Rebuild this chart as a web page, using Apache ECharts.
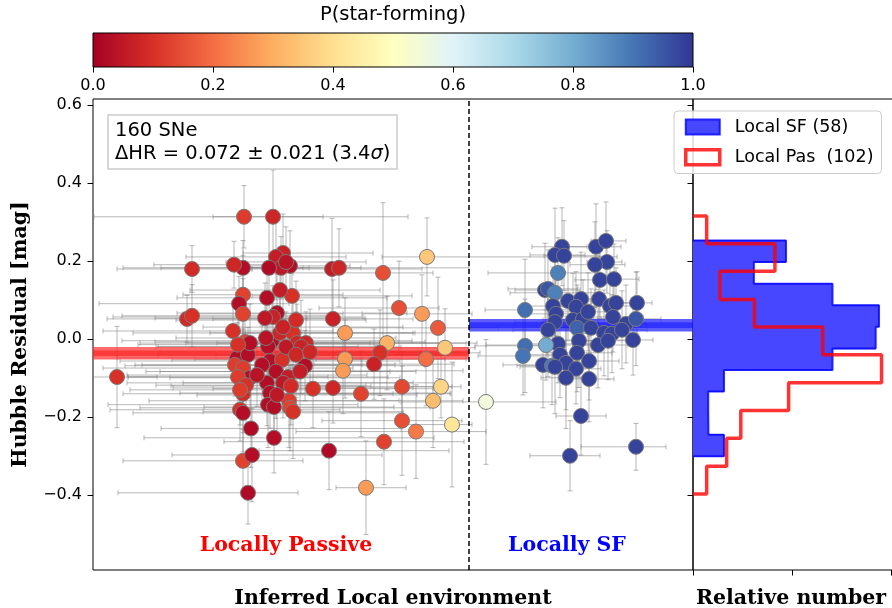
<!DOCTYPE html>
<html><head><meta charset="utf-8">
<script src="https://cdn.jsdelivr.net/npm/echarts@6/dist/echarts.min.js"></script>
<style>html,body{margin:0;padding:0;background:#fff}#c{width:892px;height:608px}</style>
</head><body><div id="c"></div>
<script>
// rows: [environment, HR, P(star-forming), xErrMinus, xErrPlus, yErr]
const passive = [
[1.51,0.314,0.12,1.50,1.64,0.08],[1.80,0.314,0.08,0.60,0.50,0.12],[1.90,0.221,0.07,0.40,0.90,0.10],
[1.83,0.211,0.06,0.90,0.70,0.11],[1.97,0.188,0.03,0.50,0.60,0.09],[1.88,0.183,0.05,1.20,0.80,0.08],
[1.76,0.183,0.02,0.30,0.40,0.12],[1.50,0.183,0.03,1.20,0.60,0.07],[1.41,0.191,0.08,0.80,0.60,0.06],
[0.99,0.180,0.09,0.75,0.60,0.06],[1.50,0.114,0.13,0.60,1.00,0.10],[1.46,0.091,0.03,1.40,0.50,0.07],
[1.74,0.106,0.03,0.90,1.20,0.09],[1.99,0.111,0.10,0.40,1.20,0.08],[1.50,0.065,0.13,0.60,1.00,0.09],
[1.84,0.067,0.03,1.00,1.30,0.10],[1.80,0.057,0.07,1.60,0.90,0.08],[0.94,0.052,0.09,0.80,1.20,0.06],
[0.99,0.060,0.10,0.70,1.40,0.08],[1.40,0.021,0.10,1.30,1.00,0.07],[1.52,-0.007,0.14,0.90,1.80,0.09],
[1.79,-0.004,0.03,1.50,1.40,0.11],[1.87,0.016,0.08,0.70,1.60,0.10],[1.75,-0.019,0.03,1.10,0.90,0.08],
[2.00,0.016,0.10,1.60,1.20,0.09],[2.04,-0.010,0.08,0.80,1.50,0.10],[2.13,-0.010,0.08,1.20,1.60,0.08],
[2.08,-0.020,0.07,0.60,1.00,0.12],[1.44,-0.048,0.03,1.20,1.40,0.09],[1.55,-0.040,0.03,0.90,2.00,0.07],
[1.77,-0.056,0.03,1.50,1.30,0.11],[1.89,-0.053,0.10,1.10,0.80,0.10],[2.12,-0.068,0.03,1.80,1.20,0.09],
[1.42,-0.066,0.12,1.00,1.60,0.08],[1.50,-0.074,0.12,1.40,1.10,0.10],[1.57,-0.099,0.03,0.80,1.50,0.08],
[1.83,-0.083,0.03,1.30,1.40,0.12],[1.95,-0.097,0.06,1.60,1.00,0.10],[1.45,-0.097,0.12,1.10,0.90,0.09],
[1.74,-0.112,0.03,1.40,1.70,0.11],[0.24,-0.097,0.10,0.30,0.40,0.13],[2.20,-0.127,0.10,1.00,1.20,0.10],
[2.40,-0.125,0.08,1.60,0.80,0.09],[2.68,-0.140,0.13,1.20,0.90,0.11],[3.09,-0.122,0.14,0.90,0.50,0.09],
[3.48,-0.122,0.38,0.40,0.20,0.08],[3.40,-0.158,0.33,1.50,0.30,0.12],[1.50,-0.140,0.09,1.20,1.50,0.10],
[1.77,-0.138,0.03,0.90,1.80,0.09],[1.96,-0.158,0.12,1.40,1.10,0.12],[1.75,-0.168,0.03,1.60,0.90,0.11],
[1.81,-0.174,0.03,0.70,1.20,0.09],[1.47,-0.181,0.10,1.30,1.00,0.08],[1.50,-0.189,0.03,1.10,1.60,0.10],
[1.97,-0.176,0.13,1.50,1.40,0.11],[2.00,-0.186,0.10,0.90,1.10,0.12],[3.09,-0.209,0.15,0.80,0.60,0.14],
[3.23,-0.237,0.22,1.20,0.70,0.12],[3.59,-0.219,0.42,0.50,0.20,0.16],[1.58,-0.229,0.02,0.90,1.50,0.10],
[1.81,-0.253,0.03,1.30,1.60,0.09],[2.91,-0.263,0.13,1.60,0.80,0.11],[2.36,-0.286,0.02,0.70,1.20,0.10],
[1.50,-0.312,0.13,1.20,0.60,0.08],[1.59,-0.297,0.03,0.80,1.30,0.12],[1.55,-0.394,0.02,1.30,0.50,0.08],
[2.73,-0.381,0.27,0.30,0.40,0.12],[3.06,0.080,0.15,0.80,0.40,0.12],[3.29,0.065,0.27,0.60,0.50,0.10],
[3.45,0.029,0.17,0.90,0.60,0.13],[2.40,0.052,0.07,1.20,0.80,0.10],[2.52,0.016,0.27,1.00,0.70,0.09],
[2.94,-0.010,0.31,1.40,0.90,0.12],[2.87,-0.035,0.10,0.80,1.00,0.11],[3.52,-0.022,0.35,0.70,0.30,0.10],
[2.52,-0.051,0.27,1.50,1.00,0.10],[2.81,-0.064,0.07,0.60,0.80,0.09],[3.33,-0.051,0.20,1.10,0.40,0.12],
[2.50,-0.081,0.27,0.90,1.20,0.11],[3.34,0.211,0.35,0.45,1.90,0.10],[2.39,0.180,0.06,0.80,0.90,0.13],
[2.46,0.183,0.08,1.10,1.30,0.10],[2.90,0.170,0.15,0.90,0.50,0.18],[1.93,0.198,0.04,0.60,0.80,0.09],
[1.57,-0.010,0.03,1.10,1.20,0.10],[1.93,-0.020,0.05,1.30,0.90,0.09],[2.03,-0.040,0.08,0.80,1.40,0.11],
[1.69,-0.066,0.03,1.20,1.00,0.10],[1.90,-0.112,0.05,1.00,1.30,0.09],[1.53,-0.118,0.10,0.90,1.20,0.11],
[2.07,-0.083,0.06,1.40,0.90,0.10],[1.72,0.054,0.05,1.10,1.00,0.09],[1.90,0.031,0.07,0.80,1.20,0.10],
[1.64,-0.092,0.04,1.30,1.10,0.08],[1.45,-0.014,0.10,1.00,1.50,0.09],[1.87,0.126,0.06,0.90,1.00,0.11],
[2.03,0.049,0.09,1.20,0.70,0.10],[1.47,-0.130,0.12,1.10,0.90,0.09],[1.84,-0.143,0.05,0.80,1.40,0.10],
[2.17,-0.033,0.08,1.50,1.10,0.11],[1.73,0.003,0.04,0.90,1.30,0.10],[1.98,-0.120,0.09,1.20,0.80,0.10]
];
const starForming = [
[4.69,0.237,0.98,0.30,0.25,0.10],[4.62,0.216,0.98,0.25,0.30,0.12],[4.71,0.214,0.98,0.20,0.35,0.09],
[5.03,0.237,0.98,0.30,0.25,0.11],[5.13,0.252,0.98,0.15,0.20,0.10],[5.14,0.198,0.98,0.20,0.15,0.08],
[4.65,0.170,0.88,0.70,0.40,0.09],[5.07,0.152,0.98,0.25,0.20,0.10],[5.21,0.154,0.98,0.20,0.25,0.09],
[4.52,0.126,0.98,0.30,0.35,0.12],[4.55,0.129,0.95,0.40,0.30,0.10],[4.62,0.119,0.88,0.45,0.40,0.11],
[4.75,0.098,0.98,0.20,0.30,0.10],[4.88,0.103,0.98,0.30,0.25,0.12],[4.83,0.083,0.98,0.25,0.20,0.09],
[5.06,0.103,0.98,0.30,0.20,0.11],[5.17,0.085,0.98,0.20,0.30,0.10],[5.23,0.093,0.98,0.25,0.25,0.09],
[5.44,0.093,0.98,0.25,0.15,0.08],[4.32,0.075,0.91,0.40,0.50,0.13],[4.60,0.085,0.98,0.30,0.35,0.10],
[4.63,0.065,0.98,0.35,0.30,0.11],[4.62,0.044,0.98,0.40,0.35,0.09],[4.80,0.049,0.98,0.30,0.25,0.12],
[4.90,0.052,0.98,0.25,0.30,0.10],[4.84,0.029,0.93,0.30,0.35,0.11],[4.98,0.029,0.98,0.35,0.25,0.10],
[5.20,0.057,0.98,0.20,0.30,0.09],[5.33,0.039,0.98,0.30,0.20,0.10],[5.43,0.052,0.95,0.35,0.25,0.12],
[5.11,0.016,0.98,0.25,0.30,0.11],[5.19,0.014,0.98,0.30,0.25,0.10],[5.40,-0.002,0.98,0.30,0.20,0.09],
[4.86,-0.004,0.98,0.35,0.30,0.12],[4.65,-0.012,0.98,0.30,0.40,0.10],[5.05,-0.015,0.98,0.25,0.30,0.11],
[5.15,-0.004,0.98,0.30,0.25,0.10],[4.32,-0.017,0.91,0.50,0.40,0.12],[4.30,-0.043,0.90,0.45,0.35,0.10],
[4.53,-0.015,0.80,0.60,0.45,0.09],[4.67,-0.040,0.98,0.35,0.30,0.11],[4.84,-0.035,0.98,0.30,0.35,0.10],
[4.73,-0.061,0.98,0.25,0.30,0.12],[4.96,-0.056,0.98,0.30,0.30,0.10],[4.50,-0.066,0.98,0.40,0.30,0.11],
[4.59,-0.068,0.89,0.35,0.40,0.10],[4.83,-0.076,0.98,0.30,0.25,0.09],[4.62,-0.071,0.98,0.35,0.30,0.12],
[4.73,-0.099,0.98,0.25,0.30,0.13],[4.96,-0.102,0.98,0.30,0.25,0.11],[4.88,-0.197,0.98,0.25,0.25,0.10],
[4.77,-0.299,0.98,0.40,0.30,0.09],[5.43,-0.276,0.98,0.55,0.30,0.06],[3.93,-0.161,0.55,0.85,0.70,0.16],
[4.95,0.070,0.98,0.30,0.25,0.10],[5.02,0.191,0.98,0.25,0.30,0.11],[5.29,0.024,0.98,0.30,0.25,0.10],
[4.55,0.024,0.98,0.35,0.30,0.12]
];
// histogram bins (top edge first) and counts
const sfEdges   = [0.253,0.198,0.142,0.087,0.032,-0.024,-0.079,-0.134,-0.190,-0.245,-0.300];
const sfCounts  = [6,4,9,12,12,9,2,1,1,2];
const pasEdges  = [0.316,0.245,0.174,0.102,0.031,-0.040,-0.112,-0.183,-0.254,-0.326,-0.397];
const pasCounts = [2,12,4,9,19,28,14,7,5,2];
// weighted mean HR of each class and its uncertainty
const hrPassive = -0.036, hrSF = 0.036, hrHalfWidth = 0.016;
const envSplit = 3.76;
const envRange = [0, 6];
const hrRange = [-0.592, 0.616];
const yTicks = [-0.4, -0.2, 0.0, 0.2, 0.4, 0.6];
const cbTicks = [0.0, 0.2, 0.4, 0.6, 0.8, 1.0];
const histTicks = [0, 2, 4];
const histRange = [0, 4.085];
const nSNe = 160, deltaHR = '0.072', deltaErr = '0.021', signif = '3.4';

const RdYlBu = ['#a50026','#d73027','#f46d43','#fdae61','#fee090','#ffffbf','#e0f3f8','#abd9e9','#74add1','#4575b4','#313695'];
const SANS = '"DejaVu Sans", sans-serif';
const SERIF = '"DejaVu Serif", serif';

function densities(edges, counts) {
  const n = counts.reduce((a, b) => a + b, 0);
  return counts.map((c, i) => [c / (n * (edges[i] - edges[i + 1])), edges[i], edges[i + 1]]);
}
function outline(edges, counts) {
  const d = densities(edges, counts);
  const pts = [[0, edges[0]]];
  d.forEach(r => { pts.push([r[0], r[1]]); pts.push([r[0], r[2]]); });
  pts.push([0, edges[edges.length - 1]]);
  return pts;
}
const nSF = sfCounts.reduce((a, b) => a + b, 0);
const nPas = pasCounts.reduce((a, b) => a + b, 0);
const sfName = 'Local SF (' + nSF + ')';
const pasName = 'Local Pas  (' + nPas + ')';
const fmt = v => (v < 0 ? '\u2212' + Math.abs(v).toFixed(1) : v.toFixed(1));

function renderErr(params, api) {
  const x = api.value(0), y = api.value(1);
  const exm = api.value(3), exp = api.value(4), ey = api.value(5);
  const xa = Math.max(envRange[0], x - exm), xb = Math.min(envRange[1], x + exp);
  const p0 = api.coord([xa, y]), p1 = api.coord([xb, y]);
  const q0 = api.coord([x, y - ey]), q1 = api.coord([x, y + ey]);
  const st = { stroke: 'rgba(125,125,125,0.55)', lineWidth: 1 };
  const c = 2.5;
  const kids = [
    { type: 'line', shape: { x1: p0[0], y1: p0[1], x2: p1[0], y2: p1[1] }, style: st },
    { type: 'line', shape: { x1: q0[0], y1: q0[1], x2: q1[0], y2: q1[1] }, style: st },
    { type: 'line', shape: { x1: q0[0] - c, y1: q0[1], x2: q0[0] + c, y2: q0[1] }, style: st },
    { type: 'line', shape: { x1: q1[0] - c, y1: q1[1], x2: q1[0] + c, y2: q1[1] }, style: st }
  ];
  if (x - exm > envRange[0]) kids.push({ type: 'line', shape: { x1: p0[0], y1: p0[1] - c, x2: p0[0], y2: p0[1] + c }, style: st });
  if (x + exp < envRange[1]) kids.push({ type: 'line', shape: { x1: p1[0], y1: p1[1] - c, x2: p1[0], y2: p1[1] + c }, style: st });
  return { type: 'group', children: kids };
}
function bandRenderer(outer, inner) {
  return function (params, api) {
    const x0 = api.value(0), x1 = api.value(1), yc = api.value(2), hw = api.value(3);
    const a = api.coord([x0, yc + hw]), b = api.coord([x1, yc - hw]);
    const a2 = api.coord([x0, yc + hw * 0.45]), b2 = api.coord([x1, yc - hw * 0.45]);
    return { type: 'group', children: [
      { type: 'rect', shape: { x: a[0], y: a[1], width: b[0] - a[0], height: b[1] - a[1] }, style: { fill: outer } },
      { type: 'rect', shape: { x: a2[0], y: a2[1], width: b2[0] - a2[0], height: b2[1] - a2[1] }, style: { fill: inner } }
    ] };
  };
}
function renderHist(params, api) {
  const d = api.value(0), yt = api.value(1), yb = api.value(2);
  const a = api.coord([0, yt]), b = api.coord([d, yb]);
  // opaque fill, slightly overlapping neighbours so no seams appear between bins
  return { type: 'rect', shape: { x: a[0], y: a[1] - 0.6, width: b[0] - a[0], height: b[1] - a[1] + 1.2 }, style: { fill: '#4747ff' } };
}

const allPoints = passive.concat(starForming);
const tickStyle = { color: '#000', width: 1 };
const chart = echarts.init(document.getElementById('c'), null, { renderer: 'canvas' });
chart.setOption({
  animation: false,
  backgroundColor: '#fff',
  title: {
    text: nSNe + ' SNe\nΔHR = ' + deltaHR + ' ± ' + deltaErr + ' (' + signif + '{it|σ})', left: 108, top: 115,
    padding: [4, 7, 4, 7], borderColor: '#cccccc', borderWidth: 1.5, backgroundColor: '#fff',
    textStyle: { fontFamily: SANS, fontSize: 19.5, fontWeight: 'normal', color: '#000', lineHeight: 23,
      rich: { it: { fontFamily: SANS, fontSize: 19.5, fontStyle: 'italic', color: '#000', lineHeight: 23 } } }
  },
  legend: {
    orient: 'vertical', left: 674, top: 111, padding: [7, 8, 7, 10],
    itemWidth: 34, itemHeight: 15, itemGap: 12,
    backgroundColor: 'rgba(255,255,255,0.85)', borderColor: '#cccccc', borderWidth: 1, borderRadius: 4,
    textStyle: { fontFamily: SANS, fontSize: 17.5, color: '#000', padding: [0, 0, 0, 10] },
    data: [
      { name: sfName, icon: 'rect', itemStyle: { color: '#4747ff', borderColor: 'rgba(0,0,255,0.8)', borderWidth: 2 } },
      { name: pasName, icon: 'rect', itemStyle: { color: 'rgba(255,255,255,0)', borderColor: 'rgba(255,0,0,0.8)', borderWidth: 3.5 } }
    ]
  },
  visualMap: {
    type: 'continuous', show: false, min: 0, max: 1, dimension: 2, seriesIndex: [3],
    inRange: { color: RdYlBu }
  },
  grid: [
    { left: 93, right: 199, top: 99, bottom: 38, outerBoundsMode: 'none', containLabel: false,
      show: true, borderColor: '#000', borderWidth: 1, backgroundColor: 'rgba(0,0,0,0)' },
    { left: 693, right: -3, top: 99, bottom: 38, outerBoundsMode: 'none', containLabel: false,
      show: true, borderColor: '#000', borderWidth: 1, backgroundColor: 'rgba(0,0,0,0)' },
    { left: 93, right: 199, top: 33, height: 34, outerBoundsMode: 'none', containLabel: false,
      show: true, borderColor: '#000', borderWidth: 1,
      backgroundColor: new echarts.graphic.LinearGradient(0, 0, 1, 0, RdYlBu.map((c, i) => ({ offset: i / (RdYlBu.length - 1), color: c }))) }
  ],
  xAxis: [
    { gridIndex: 0, type: 'value', min: envRange[0], max: envRange[1], splitLine: { show: false },
      axisLine: { show: false, onZero: false }, axisTick: { show: false }, axisLabel: { show: false },
      name: 'Inferred Local environment', nameLocation: 'middle', nameGap: 18,
      nameTextStyle: { fontFamily: SERIF, fontWeight: 'bold', fontSize: 20.5, color: '#000', verticalAlign: 'top' } },
    { gridIndex: 1, type: 'value', position: 'bottom', min: histRange[0], max: histRange[1], splitLine: { show: false },
      axisLine: { show: false, onZero: false }, axisTick: { show: true, length: 5.5, customValues: histTicks, lineStyle: tickStyle },
      axisLabel: { show: false },
      name: 'Relative number', nameLocation: 'middle', nameGap: 18,
      nameTextStyle: { fontFamily: SERIF, fontWeight: 'bold', fontSize: 20.5, color: '#000', verticalAlign: 'top', padding: [0, 6, 0, 0] } },
    { gridIndex: 2, type: 'value', position: 'bottom', min: 0, max: 1, splitLine: { show: false },
      axisLine: { show: false, onZero: false }, axisTick: { show: true, length: 5.5, customValues: cbTicks, lineStyle: tickStyle },
      axisLabel: { customValues: cbTicks, formatter: fmt, margin: 11, fontFamily: SANS, fontSize: 16, color: '#000' } }
  ],
  yAxis: [
    { gridIndex: 0, type: 'value', min: hrRange[0], max: hrRange[1], splitLine: { show: false },
      axisLine: { show: false, onZero: false }, axisTick: { show: true, length: 5.5, customValues: yTicks, lineStyle: tickStyle },
      axisLabel: { customValues: yTicks, formatter: fmt, margin: 11, fontFamily: SANS, fontSize: 16, color: '#000' },
      name: 'Hubble Residual [mag]', nameLocation: 'middle', nameGap: 62,
      nameTextStyle: { fontFamily: SERIF, fontWeight: 'bold', fontSize: 20.5, color: '#000' } },
    { gridIndex: 1, type: 'value', position: 'left', min: hrRange[0], max: hrRange[1], splitLine: { show: false },
      axisLine: { show: false, onZero: false }, axisTick: { show: true, length: 5.5, customValues: yTicks, lineStyle: tickStyle },
      axisLabel: { show: false } },
    { gridIndex: 2, type: 'value', min: 0, max: 1, show: false, axisLine: { onZero: false } }
  ],
  series: [
    { type: 'custom', name: 'errors', xAxisIndex: 0, yAxisIndex: 0, z: 1, silent: true,
      renderItem: renderErr, encode: { x: 0, y: 1 }, data: allPoints, clip: true },
    { type: 'custom', name: 'bandPas', xAxisIndex: 0, yAxisIndex: 0, z: 2, silent: true,
      renderItem: bandRenderer('rgba(255,50,50,0.72)', 'rgba(255,0,0,0.45)'), encode: { x: [0, 1], y: 2 },
      data: [[envRange[0], envSplit, hrPassive, hrHalfWidth]] },
    { type: 'custom', name: 'bandSF', xAxisIndex: 0, yAxisIndex: 0, z: 2, silent: true,
      renderItem: bandRenderer('rgba(40,40,255,0.75)', 'rgba(0,0,255,0.45)'), encode: { x: [0, 1], y: 2 },
      data: [[envSplit, envRange[1], hrSF, hrHalfWidth]] },
    { type: 'scatter', name: 'points', xAxisIndex: 0, yAxisIndex: 0, z: 3, symbolSize: 15,
      itemStyle: { borderColor: '#7a7a7a', borderWidth: 1, opacity: 1 },
      encode: { x: 0, y: 1 }, data: allPoints,
      markLine: { silent: true, symbol: 'none', label: { show: false },
        lineStyle: { color: '#000', type: [5, 3], width: 1.5 }, data: [{ xAxis: envSplit }] } },
    { type: 'custom', name: sfName, xAxisIndex: 1, yAxisIndex: 1, z: 2, silent: true,
      renderItem: renderHist, encode: { x: 0, y: [1, 2] }, data: densities(sfEdges, sfCounts),
      itemStyle: { color: '#4747ff' } },
    { type: 'line', name: 'sfEdge', xAxisIndex: 1, yAxisIndex: 1, z: 3, silent: true, symbol: 'none',
      lineStyle: { color: 'rgba(0,0,255,0.8)', width: 2 }, data: outline(sfEdges, sfCounts) },
    { type: 'line', name: pasName, xAxisIndex: 1, yAxisIndex: 1, z: 4, silent: true, symbol: 'none',
      lineStyle: { color: 'rgba(255,0,0,0.8)', width: 3.5 }, itemStyle: { color: 'rgba(255,0,0,0.8)' },
      data: outline(pasEdges, pasCounts) }
  ],
  graphic: [
    { type: 'text', x: 393, y: 15, style: { text: 'P(star-forming)', font: '19.5px ' + SANS, fill: '#000', align: 'center', verticalAlign: 'middle' } },
    { type: 'text', x: 286, y: 546, style: { text: 'Locally Passive', font: 'bold 20.5px ' + SERIF, fill: '#ff0000', align: 'center', verticalAlign: 'middle' } },
    { type: 'text', x: 567, y: 546, style: { text: 'Locally SF', font: 'bold 20.5px ' + SERIF, fill: '#0000ff', align: 'center', verticalAlign: 'middle' } }
  ]
});
</script>
</body></html>
